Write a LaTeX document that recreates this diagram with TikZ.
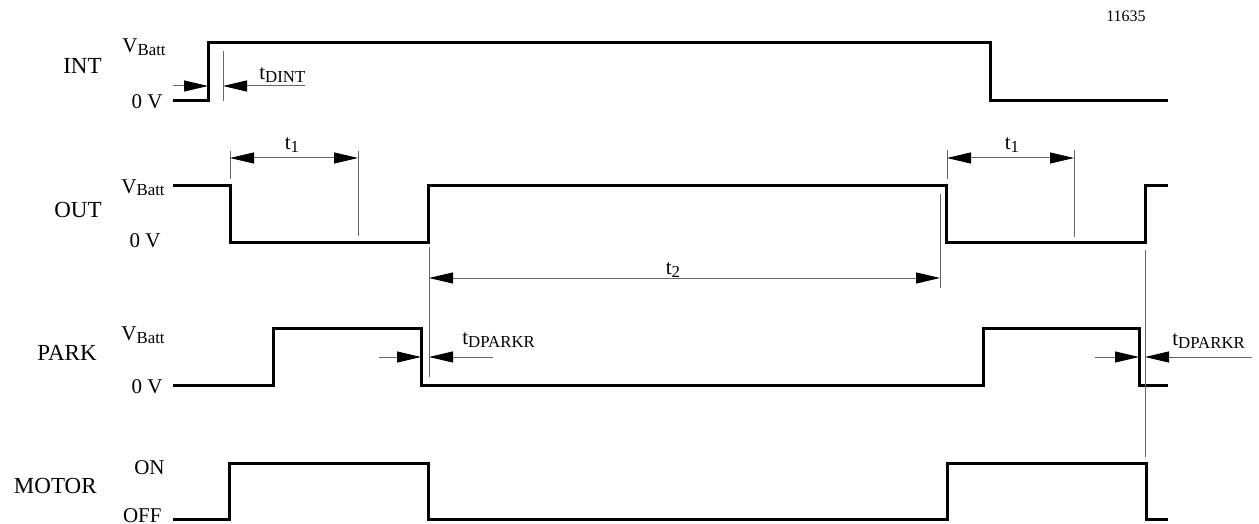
\documentclass[tikz,border=0pt]{standalone}
\usepackage{fontspec}
\setmainfont{Liberation Serif}
\usepackage{tikz}
\usetikzlibrary{arrows.meta,positioning}
\newcommand{\lowsub}[1]{\raisebox{-1.5pt}{\fontsize{8.4}{9}\selectfont #1}}
\tikzset{wave/.style={
    % The line:
    line width=1.5pt,
    draw=black,
    line join=miter,
    },
    guide/.style={
    line width=0.5pt,
    draw=black!60,
    },
    dimarrow/.style={
    guide,
    % The tip:
    -{Triangle[length=12pt,width=5.5pt,color=black]},
    },
    dimboth/.style={
    guide,
    % Both tips:
    {Triangle[length=12pt,width=5.5pt,color=black]}-{Triangle[length=12pt,width=5.5pt,color=black]},
    },
    signame/.style={
    font=\fontsize{11.5}{13}\selectfont,
    inner sep=0pt,
    anchor=base east,
    },
    level/.style={
    font=\fontsize{10.5}{12}\selectfont,
    inner sep=0pt,
    anchor=base east,
    },
    timelabel/.style={
    font=\fontsize{10.5}{12}\selectfont,
    inner sep=0pt,
    anchor=base west,
    },
}

\begin{document}
\begin{tikzpicture}[x=0.5pt,y=-0.5pt]
    \useasboundingbox (0,0) rectangle (1259,524);

    % Signal names and levels
    \node (int)      [signame] at (102,74)  {INT};
    \node (inthi)    [level]   at (166,53)  {V\lowsub{Batt}};
    \node (intlo)    [level]   at (163,109) {0 V};
    \node (out)      [signame] at (102,217) {OUT};
    \node (outhi)    [level]   at (165,193) {V\lowsub{Batt}};
    \node (outlo)    [level]   at (161,247) {0 V};
    \node (park)     [signame] at (97,360)  {PARK};
    \node (parkhi)   [level]   at (165,340) {V\lowsub{Batt}};
    \node (parklo)   [level]   at (163,393) {0 V};
    \node (motor)    [signame] at (97,493)  {MOTOR};
    \node (motorhi)  [level]   at (165,474) {ON};
    \node (motorlo)  [level]   at (162,522) {OFF};
    \node (fig)      [font=\fontsize{8}{9}\selectfont,inner sep=0pt,anchor=base] at (1126,22) {11635};

    % Waveforms
    \draw [wave] (173,101) -- (208,101) -- (208,43) -- (990,43) -- (990,101) -- (1168,101);
    \draw [wave] (173,186) -- (230,186) -- (230,242) -- (428,242) -- (428,186) -- (946,186)
        -- (946,242) -- (1145,242) -- (1145,186) -- (1168,186);
    \draw [wave] (173,385) -- (273,385) -- (273,328) -- (421,328) -- (421,385) -- (983,385)
        -- (983,328) -- (1139,328) -- (1139,385) -- (1168,385);
    \draw [wave] (173,519) -- (229,519) -- (229,463) -- (428,463) -- (428,519) -- (947,519)
        -- (947,463) -- (1146,463) -- (1146,519) -- (1168,519);

    % t_DINT
    \draw [guide] (223,51) -- (223,101);
    \draw [dimarrow] (173,86) -- (208,86);
    \draw [dimarrow] (305,86) -- (223,86);
    \node (tdint)    [timelabel] at (259,80) {t\lowsub{DINT}};

    % t_1, left and right
    \draw [guide] (230,151) -- (230,179);
    \draw [guide] (358,151) -- (358,236);
    \draw [dimboth] (230,158) -- (358,158);
    \node (tone)     [timelabel,anchor=base] at (292,150) {t\lowsub{1}};
    \draw [guide] (947,150) -- (947,179);
    \draw [guide] (1074,150) -- (1074,237);
    \draw [dimboth] (947,158) -- (1074,158);
    \node (tonebis)  [timelabel,anchor=base] at (1012,150) {t\lowsub{1}};

    % t_2
    \draw [guide] (429,247) -- (429,377);
    \draw [guide] (940,194) -- (940,288);
    \draw [dimboth] (429,278) -- (940,278);
    \node (ttwo)     [timelabel,anchor=base] at (673,274) {t\lowsub{2}};

    % t_DPARKR, left and right
    \draw [dimarrow] (379,357) -- (421,357);
    \draw [dimarrow] (493,357) -- (429,357);
    \node (tdpark)   [timelabel] at (462,344) {t\lowsub{DPARKR}};
    \draw [guide] (1145,250) -- (1145,457);
    \draw [dimarrow] (1095,357) -- (1139,357);
    \draw [dimarrow] (1252,357) -- (1145,357);
    \node (tdparkbis)[timelabel] at (1172,345) {t\lowsub{DPARKR}};
\end{tikzpicture}
\end{document}
